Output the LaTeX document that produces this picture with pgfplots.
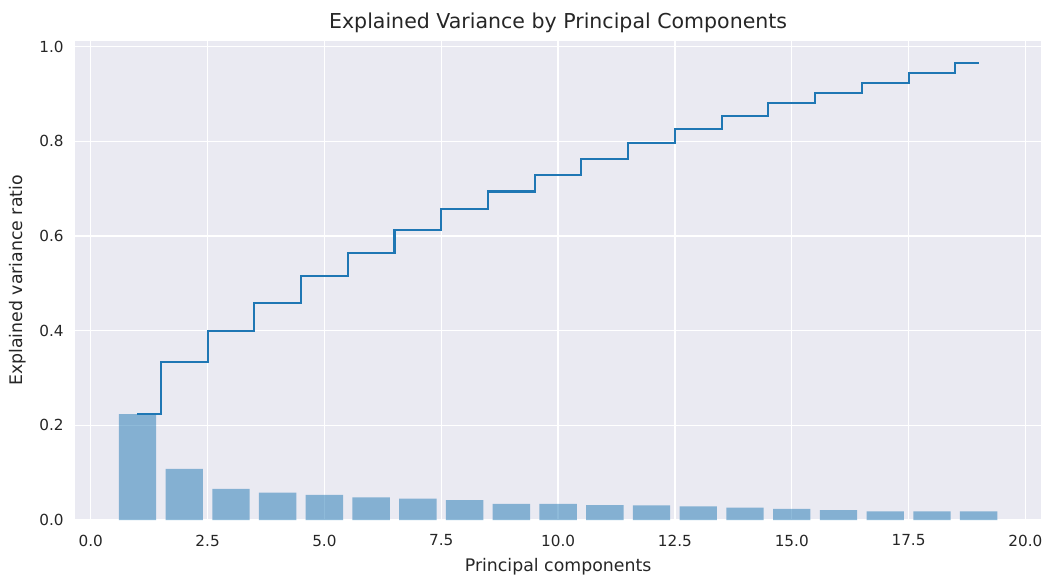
\documentclass[border=0pt]{standalone}
\usepackage{pgfplots}
\pgfplotsset{compat=1.18}
\usepackage{fontspec}
\setmainfont{DejaVu Sans}
\usetikzlibrary{calc}
\definecolor{tabblue}{HTML}{1F77B4}
\definecolor{sbbg}{HTML}{EAEAF2}
\definecolor{txt}{HTML}{262626}
\begin{document}
\begin{tikzpicture}
\begin{axis}[
  name=ax,
  scale only axis,
  width=697pt, height=345.6pt,
  xmin=-0.34, xmax=20.34,
  ymin=0, ymax=1.012,
  axis background/.style={fill=sbbg},
  axis line style={draw=none},
  major tick length=0pt,
  grid=major,
  major grid style={white, line width=1pt},
  xtick={0,2.5,...,20},
  ytick={0,0.2,...,1.0},
  /pgf/number format/assume math mode=true,
  /pgf/number format/fixed,
  /pgf/number format/fixed zerofill,
  /pgf/number format/precision=1,
  tick label style={font=\fontsize{11}{13}\selectfont, text=txt},
  xticklabel style={yshift=-7pt},
  yticklabel style={xshift=-4.6pt},
  xlabel={Principal components},
  ylabel={Explained variance ratio},
  label style={font=\fontsize{12.5}{15}\selectfont, text=txt},
  xlabel style={yshift=-2pt},
  ylabel style={yshift=3pt},
  title={Explained Variance by Principal Components},
  title style={font=\fontsize{14.8}{17}\selectfont, text=txt, yshift=-3.5pt},
]
\addplot[ybar, bar width=0.8, bar shift=0pt, fill=tabblue, fill opacity=0.5, draw=none]
coordinates {
(1,0.2240) (2,0.1080) (3,0.0657) (4,0.0580) (5,0.0530) (6,0.0480)
(7,0.0455) (8,0.0420) (9,0.0345) (10,0.0340) (11,0.0315) (12,0.0312)
(13,0.0288) (14,0.0265) (15,0.0238) (16,0.0210) (17,0.0185) (18,0.0183) (19,0.0182)
};
\addplot[const plot mark mid, tabblue, line width=1.5pt, mark=none, line join=miter]
coordinates {
(1,0.2250) (2,0.3330) (3,0.3990) (4,0.4590) (5,0.5150) (6,0.5650)
(7,0.6120) (8,0.6570) (9,0.6940) (10,0.7285) (11,0.7630) (12,0.7960)
(13,0.8260) (14,0.8540) (15,0.8810) (16,0.9020) (17,0.9225) (18,0.9435) (19,0.9646)
};
\end{axis}
\path[use as bounding box] ($(ax.south west)+(-54pt,-39.6pt)$) rectangle ($(ax.north east)+(2.9pt,29.5pt)$);
\end{tikzpicture}
\end{document}
